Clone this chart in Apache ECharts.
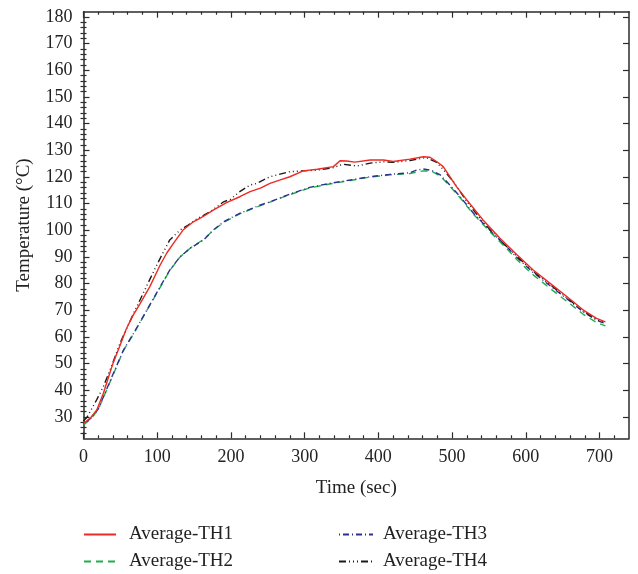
<!DOCTYPE html>
<html>
<head>
<meta charset="utf-8">
<script src="https://cdn.jsdelivr.net/npm/echarts@6/dist/echarts.min.js"></script>
<style>html,body{margin:0;padding:0;background:#fff;}#c{width:638px;height:574px;}</style>
</head>
<body>
<div id="c"></div>
<script>
const xMajor = [0,100,200,300,400,500,600,700];
const xMinor = [20,40,60,80,120,140,160,180,220,240,260,280,320,340,360,380,420,440,460,480,520,540,560,580,620,640,660,680,720];
const yMajor = [30,40,50,60,70,80,90,100,110,120,130,140,150,160,170,180];
const yMinor = [24,26,28,32,34,36,38,42,44,46,48,52,54,56,58,62,64,66,68,72,74,76,78,82,84,86,88,92,94,96,98,102,104,106,108,112,114,116,118,122,124,126,128,132,134,136,138,142,144,146,148,152,154,156,158,162,164,166,168,172,174,176,178];
const names = ['Average-TH1','Average-TH2','Average-TH3','Average-TH4'];

const th1 = [[0,27.5],[10,29.8],[18,32.6],[27,38.9],[34,45],[40,50.1],[49,56.4],[58,63],[67,68],[77,72.6],[90,78.9],[104,87],[113,91.5],[122,95.1],[135,100.1],[149,103.2],[162,105.1],[176,107.6],[194,110.4],[212,112.6],[226,114.5],[240,115.8],[253,117.6],[266,118.8],[280,120.1],[298,122.3],[317,122.9],[339,123.9],[348,126.1],[357,126],[368,125.6],[389,126.4],[407,126.4],[420,125.8],[443,126.7],[461,127.6],[470,127.4],[479,125.8],[488,123.9],[497,120.1],[506,116.4],[520,111.4],[542,103.9],[565,97],[588,90.8],[610,85.1],[633,80.1],[656,75.1],[678,70.1],[696,67],[708,65.7]];
const th2 = [[0,27],[10,29.3],[20,32.8],[30,39.2],[40,45.7],[54,54.8],[68,61.2],[86,70],[104,78.6],[117,84.9],[131,90],[145,93.4],[163,96.6],[176,100],[190,103],[212,106.2],[240,109.3],[253,110.6],[280,113.4],[307,115.9],[334,117.4],[362,118.7],[389,120],[416,120.8],[443,121.3],[461,122.3],[472,122.2],[484,120.4],[497,116.6],[511,112.2],[529,106],[551,99.6],[574,93.2],[588,89],[610,83.3],[633,78.2],[656,73.3],[678,68.5],[696,65.4],[708,64.2]];
const th3 = [[0,27.3],[10,29.5],[20,33],[30,39.5],[40,46],[54,55],[68,61.4],[86,70.1],[104,78.9],[117,85.1],[131,90.1],[145,93.3],[163,96.4],[176,100.1],[190,103.2],[212,106.4],[240,109.5],[253,110.7],[280,113.6],[307,116.1],[334,117.6],[362,118.9],[389,120.1],[416,121],[443,121.6],[452,122.6],[461,123],[472,122.5],[484,120.8],[497,117],[511,112.6],[529,106.4],[551,100.1],[574,93.9],[588,89.8],[610,84.2],[633,79.2],[656,74.3],[678,69.4],[696,66.3],[708,65]];
const th4 = [[0,28.5],[5,30],[9,32],[18,36.5],[27,41.4],[38,49],[50,58],[60,64],[68,68.9],[81,76.4],[95,84.5],[104,89.5],[117,96.4],[131,100.1],[142,102],[155,104.5],[172,107],[190,110.7],[199,111.6],[212,114.5],[226,117],[235,117.6],[253,120.1],[280,122],[298,122.3],[317,122.6],[339,123.5],[352,124.8],[371,124.1],[389,125.2],[407,125.7],[420,125.5],[443,126.2],[465,127.3],[479,125.5],[488,122.8],[502,118.2],[520,110.8],[542,103],[565,96.3],[588,90.2],[610,84.6],[633,79.6],[656,74.6],[678,69.7],[696,66.6],[708,65.2]];

const FONT = 'Liberation Serif';
const frame = {show:true,onZero:false,lineStyle:{color:'#2b2b2b',width:1.5}};
function xAx(pos, major, labels, name){
  return {type:'value',min:0,max:740,position:pos,
    axisLine: major ? frame : {show:false},
    splitLine:{show:false},
    axisTick:{show:true,inside:true,length:major?6:3,customValues:major?xMajor:xMinor,lineStyle:{color:'#2b2b2b',width:1.2}},
    axisLabel: labels ? {show:true,customValues:xMajor,margin:10,fontFamily:FONT,fontSize:18,color:'#222'} : {show:false},
    name: name||'', nameLocation:'middle', nameGap:40,
    nameTextStyle:{fontFamily:FONT,fontSize:19,color:'#222'}};
}
function yAx(pos, major, labels, name){
  return {type:'value',min:22,max:182,position:pos,
    axisLine: major ? frame : {show:false},
    splitLine:{show:false},
    axisTick:{show:true,inside:true,length:major?6:3,customValues:major?yMajor:yMinor,lineStyle:{color:'#2b2b2b',width:1.2}},
    axisLabel: labels ? {show:true,customValues:yMajor,margin:11,fontFamily:FONT,fontSize:18,color:'#222'} : {show:false},
    name: name||'', nameLocation:'middle', nameGap:50,
    nameTextStyle:{fontFamily:FONT,fontSize:19,color:'#222'}};
}
function ser(name, data, color, type){
  return {name, type:'line', data, xAxisIndex:0, yAxisIndex:0, symbol:'none', showSymbol:false,
    lineStyle:{color, width:1.4, type}, itemStyle:{color}, animation:false};
}
function leg(name, left, top, w, pad){
  return {data:[name],orient:'horizontal',left,top,padding:0,itemWidth:w,itemHeight:14,
    itemStyle:{opacity:0,color:'rgba(0,0,0,0)',borderWidth:0},
    textStyle:{fontFamily:FONT,fontSize:19,color:'#222',padding:[0,0,0,pad]}};
}
const chart = echarts.init(document.getElementById('c'), null, {renderer:'canvas'});
chart.setOption({
  backgroundColor:'#fff',
  animation:false,
  grid:{left:83.5,top:11.7,right:9,bottom:135.7,outerBoundsMode:'none'},
  xAxis:[xAx('bottom',true,true,'Time (sec)'), xAx('top',true,false), xAx('bottom',false,false), xAx('top',false,false)],
  yAxis:[yAx('left',true,true,'Temperature (°C)'), yAx('right',true,false), yAx('left',false,false), yAx('right',false,false)],
  legend:[
    leg(names[0], 83, 525, 32, 8),
    leg(names[1], 83, 552, 32, 8),
    leg(names[2], 338, 525, 34, 5),
    leg(names[3], 338, 552, 34, 5)
  ],
  series:[
    ser(names[1], th2, '#1fae4e', [7,5]),
    ser(names[2], th3, '#2e3192', [1,3,6,3]),
    ser(names[3], th4, '#1a1a1a', [7,3,1,3,1,3,1,3]),
    ser(names[0], th1, '#ec2a24', 'solid')
  ]
});
</script>
</body>
</html>
